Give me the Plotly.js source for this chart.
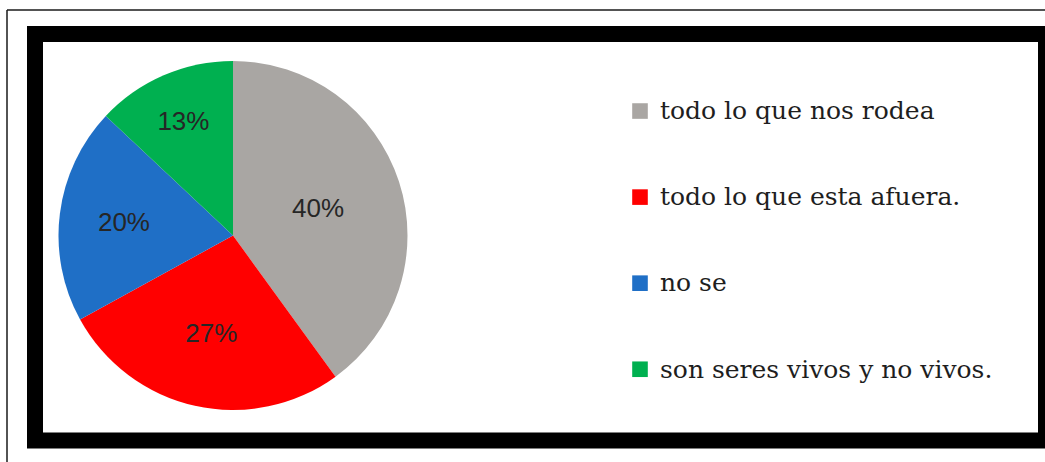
<!DOCTYPE html>
<html>
<head>
<meta charset="utf-8">
<script src="https://cdn.plot.ly/plotly-3.0.1.min.js"></script>
<style>
  html, body { margin: 0; padding: 0; background: #ffffff; }
  #chart { width: 1045px; height: 462px; }
  /* slightly larger legend swatches, as in the reference */
  #chart .legendpie { transform: translate(20px, 0px) scale(1.3); }
</style>
</head>
<body>
<div id="chart"></div>
<script>
// ---- data ----
var categories = ['todo lo que nos rodea', 'todo lo que esta afuera.', 'no se', 'son seres vivos y no vivos.'];
var percents = [40, 27, 20, 13];
var sliceColors = ['#A9A6A3', '#FF0000', '#1F6FC6', '#00B050'];

// ---- layout helpers (pixel -> paper) ----
var W = 1045, H = 462;
function px(x) { return x / W; }
function py(y) { return 1 - y / H; }

// legend entries: the visible label sits on the middle of three lines
var legendLabels = categories.map(function (c) {
  return '\u00a0<br><span style="font-size:25px">' + c + '</span><br>\u00a0';
});

var trace = {
  type: 'pie',
  labels: legendLabels,
  values: percents,
  sort: false,
  direction: 'clockwise',
  rotation: 0,
  marker: { colors: sliceColors, line: { width: 0 } },
  texttemplate: '%{value}%',
  textposition: 'inside',
  insidetextorientation: 'horizontal',
  textfont: { family: 'Liberation Sans, Arial, sans-serif', size: 26, color: '#262626' },
  hoverinfo: 'none',
  domain: { x: [px(58), px(408)], y: [py(410), py(61)] }
};

var layout = {
  width: W,
  height: H,
  margin: { l: 0, r: 0, t: 0, b: 0 },
  paper_bgcolor: '#ffffff',
  plot_bgcolor: '#ffffff',
  showlegend: true,
  legend: {
    x: px(620), xanchor: 'left',
    y: py(63), yanchor: 'top',
    font: { family: 'DejaVu Serif, serif', size: 21.3, color: '#1e1e1e' },
    bgcolor: 'rgba(0,0,0,0)',
    borderwidth: 0,
    valign: 'middle'
  },
  shapes: [
    { type: 'rect', xref: 'paper', yref: 'paper',
      x0: px(35), x1: px(1046), y0: py(34), y1: py(440.5),
      line: { color: '#000000', width: 16 }, fillcolor: 'rgba(0,0,0,0)' },
    { type: 'line', xref: 'paper', yref: 'paper',
      x0: px(7), x1: px(1045), y0: py(10), y1: py(10),
      line: { color: '#1a1a1a', width: 1.5 } },
    { type: 'line', xref: 'paper', yref: 'paper',
      x0: px(7), x1: px(7), y0: py(10), y1: py(462),
      line: { color: '#1a1a1a', width: 1.5 } }
  ]
};

Plotly.newPlot('chart', [trace], layout, { displayModeBar: false, staticPlot: true });
</script>
</body>
</html>
